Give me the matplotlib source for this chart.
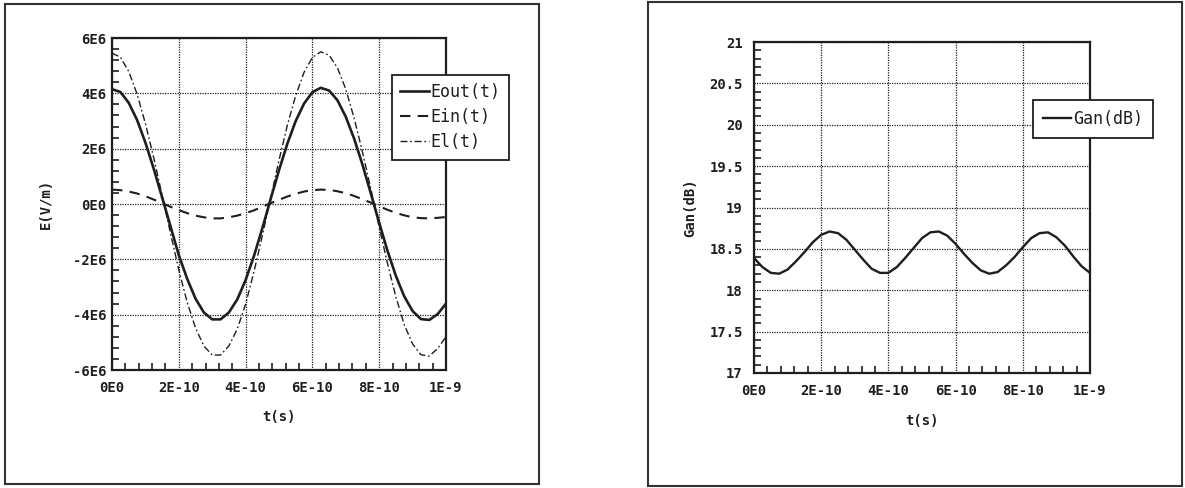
import numpy as np
import matplotlib
matplotlib.use('Agg')
import matplotlib.pyplot as plt
from matplotlib.patches import Rectangle
from matplotlib.ticker import MultipleLocator

# time samples, in units of 1E-10 s
t_units = [0, 0.25, 0.5, 0.75, 1.0, 1.25, 1.5, 1.75, 2.0, 2.25,
           2.5, 2.75, 3.0, 3.25, 3.5, 3.75, 4.0, 4.25, 4.5, 4.75,
           5.0, 5.25, 5.5, 5.75, 6.0, 6.25, 6.5, 6.75, 7.0, 7.25,
           7.5, 7.75, 8.0, 8.25, 8.5, 8.75, 9.0, 9.25, 9.5, 9.75, 10.0]

# fields, in units of 1E6 V/m
e_out = [4.15, 4.05, 3.66, 3.04, 2.22, 1.27, 0.24, -0.80, -1.85, -2.70,
         -3.42, -3.92, -4.17, -4.17, -3.92, -3.45, -2.75, -1.88, -0.88, 0.18,
         1.22, 2.18, 3.00, 3.63, 4.04, 4.20, 4.10, 3.75, 3.15, 2.36,
         1.42, 0.38, -0.68, -1.70, -2.60, -3.34, -3.87, -4.16, -4.19, -3.98, -3.60]
e_in = [0.52, 0.50, 0.45, 0.38, 0.28, 0.16, 0.03, -0.10, -0.22, -0.33,
        -0.42, -0.48, -0.52, -0.52, -0.48, -0.42, -0.33, -0.23, -0.10, 0.03,
        0.15, 0.27, 0.37, 0.45, 0.50, 0.52, 0.51, 0.46, 0.39, 0.29,
        0.17, 0.05, -0.08, -0.21, -0.32, -0.41, -0.48, -0.51, -0.52, -0.50, -0.47]
e_l = [5.45, 5.31, 4.79, 3.98, 2.91, 1.67, 0.32, -1.05, -2.38, -3.55,
       -4.48, -5.13, -5.46, -5.46, -5.13, -4.52, -3.62, -2.45, -1.15, 0.22,
       1.58, 2.85, 3.92, 4.76, 5.30, 5.50, 5.38, 4.92, 4.15, 3.10,
       1.88, 0.54, -0.84, -2.16, -3.36, -4.36, -5.06, -5.45, -5.50, -5.22, -4.80]

# gain, dB
gan = [18.39, 18.28, 18.21, 18.20, 18.25, 18.35, 18.46, 18.58, 18.67, 18.71,
       18.69, 18.61, 18.49, 18.37, 18.26, 18.21, 18.21, 18.28, 18.39, 18.51,
       18.63, 18.70, 18.71, 18.66, 18.56, 18.44, 18.33, 18.24, 18.20, 18.22,
       18.30, 18.40, 18.52, 18.63, 18.69, 18.70, 18.64, 18.54, 18.41, 18.29, 18.21]

x_ticks = [0, 2e-10, 4e-10, 6e-10, 8e-10, 1e-9]
x_labels = ['0E0', '2E-10', '4E-10', '6E-10', '8E-10', '1E-9']
e_ticks = [-6e6, -4e6, -2e6, 0, 2e6, 4e6, 6e6]
e_labels = ['-6E6', '-4E6', '-2E6', '0E0', '2E6', '4E6', '6E6']
g_ticks = [17, 17.5, 18, 18.5, 19, 19.5, 20, 20.5, 21]
g_labels = ['17', '17.5', '18', '18.5', '19', '19.5', '20', '20.5', '21']

MONO = 'DejaVu Sans Mono'
INK = '#1e1e1e'
FS = 10


def style_axes(ax, yticks, ylabels, ypad, yminor):
    ax.set_xlim(0, 1e-9)
    ax.set_xticks(x_ticks)
    ax.set_xticklabels(x_labels, fontfamily=MONO, fontweight='bold', fontsize=FS, color=INK)
    ax.set_ylim(yticks[0], yticks[-1])
    ax.set_yticks(yticks)
    ax.set_yticklabels(ylabels, fontfamily=MONO, fontweight='bold', fontsize=FS, color=INK)
    ax.xaxis.set_minor_locator(MultipleLocator(0.4e-10))
    ax.yaxis.set_minor_locator(MultipleLocator(yminor))
    ax.tick_params(which='both', direction='in', top=False, right=False, colors=INK)
    ax.tick_params(which='major', length=0)
    ax.tick_params(axis='x', which='major', pad=8)
    ax.tick_params(axis='y', which='major', pad=ypad)
    ax.tick_params(which='minor', length=5, width=1.2)
    for s in ax.spines.values():
        s.set_linewidth(1.6)
        s.set_color(INK)
    ax.grid(True, which='major', color=INK, linestyle=(0, (1, 1)), linewidth=0.9)
    ax.set_axisbelow(True)


def style_legend(leg):
    leg.get_frame().set_edgecolor(INK)
    leg.get_frame().set_linewidth(1.3)
    leg.set_zorder(5)
    for txt in leg.get_texts():
        txt.set_color(INK)


fig = plt.figure(figsize=(11.85, 4.88), dpi=100)

# outer frames
fig.patches.append(Rectangle((5 / 1185, 4 / 488), 534 / 1185, 480 / 488,
                             transform=fig.transFigure, fill=False,
                             edgecolor='#333333', linewidth=1.5))
fig.patches.append(Rectangle((648 / 1185, 2 / 488), 534 / 1185, 484 / 488,
                             transform=fig.transFigure, fill=False,
                             edgecolor='#333333', linewidth=1.5))

t = np.array(t_units) * 1e-10

# left panel
ax1 = fig.add_axes([112 / 1185, 118 / 488, 334 / 1185, 332 / 488])
style_axes(ax1, e_ticks, e_labels, 4, 0.4e6)
ax1.plot(t, np.array(e_out) * 1e6, color=INK, linewidth=1.9, label='Eout(t)')
ax1.plot(t, np.array(e_in) * 1e6, color=INK, linewidth=1.5,
         linestyle=(0, (5, 3.5)), label='Ein(t)')
ax1.plot(t, np.array(e_l) * 1e6, color=INK, linewidth=1.0,
         linestyle=(0, (5, 2, 1.2, 2)), label='El(t)')
ax1.set_xlabel('t(s)', fontfamily=MONO, fontweight='bold', fontsize=FS, color=INK)
ax1.set_ylabel('E(V/m)', fontfamily=MONO, fontweight='bold', fontsize=FS, color=INK)
ax1.xaxis.set_label_coords(0.5, -0.142)
ax1.xaxis.label.set_va('center')
ax1.yaxis.set_label_coords(-0.198, 0.5)
ax1.yaxis.label.set_va('center')
leg1 = ax1.legend(loc='upper left', bbox_to_anchor=(392 / 1185, 1 - 75 / 488),
                  bbox_transform=fig.transFigure, borderaxespad=0,
                  prop={'family': MONO, 'size': 12}, handlelength=1.7,
                  handletextpad=0.1, borderpad=0.5, labelspacing=0.42,
                  fancybox=False, framealpha=1)
style_legend(leg1)

# right panel
ax2 = fig.add_axes([754 / 1185, 115 / 488, 336 / 1185, 331 / 488])
style_axes(ax2, g_ticks, g_labels, 8, 0.1)
ax2.plot(t, gan, color=INK, linewidth=1.7, label='Gan(dB)')
ax2.set_xlabel('t(s)', fontfamily=MONO, fontweight='bold', fontsize=FS, color=INK)
ax2.set_ylabel('Gan(dB)', fontfamily=MONO, fontweight='bold', fontsize=FS, color=INK)
ax2.xaxis.set_label_coords(0.5, -0.145)
ax2.xaxis.label.set_va('center')
ax2.yaxis.set_label_coords(-0.19, 0.5)
ax2.yaxis.label.set_va('center')
leg2 = ax2.legend(loc='upper left', bbox_to_anchor=(1033 / 1185, 1 - 100 / 488),
                  bbox_transform=fig.transFigure, borderaxespad=0,
                  prop={'family': MONO, 'size': 12}, handlelength=1.7,
                  handletextpad=0.1, borderpad=0.6,
                  fancybox=False, framealpha=1)
style_legend(leg2)

fig.savefig('out.png', dpi=100)
